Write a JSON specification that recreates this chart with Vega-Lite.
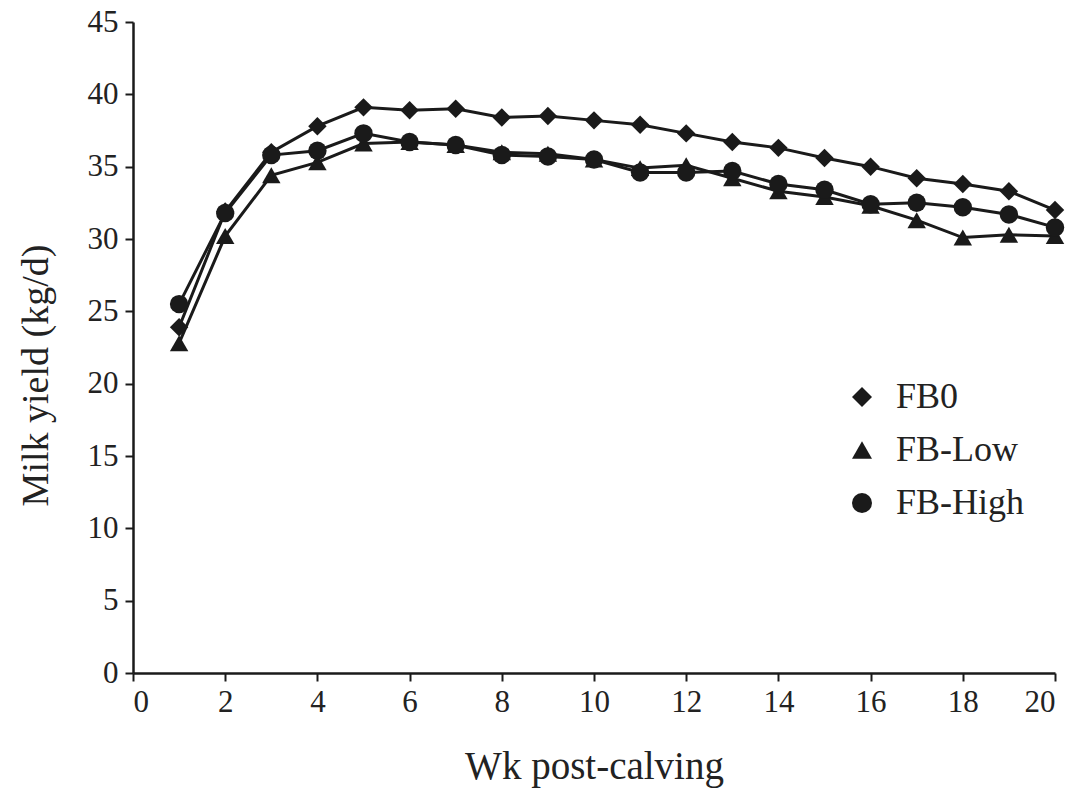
{
  "$schema": "https://vega.github.io/schema/vega-lite/v6.json",
  "width": 922,
  "height": 651,
  "autosize": {"type": "none"},
  "padding": {"left": 133, "top": 22, "right": 21, "bottom": 120},
  "background": "white",
  "config": {
    "view": {"stroke": null},
    "font": "Liberation Serif",
    "axis": {
      "grid": false,
      "domainColor": "#1a1a1a",
      "domainWidth": 2.5,
      "tickColor": "#1a1a1a",
      "tickWidth": 2,
      "tickSize": 8,
      "labelFont": "Liberation Serif",
      "labelFontSize": 31,
      "labelColor": "#222222",
      "titleFont": "Liberation Serif",
      "titleFontSize": 39,
      "titleFontWeight": "normal",
      "titleColor": "#222222"
    }
  },
  "data": {
    "values": [
      {"wk": 1, "series": "FB0", "y": 23.9},
      {"wk": 2, "series": "FB0", "y": 31.9},
      {"wk": 3, "series": "FB0", "y": 36.0},
      {"wk": 4, "series": "FB0", "y": 37.8},
      {"wk": 5, "series": "FB0", "y": 39.1},
      {"wk": 6, "series": "FB0", "y": 38.9},
      {"wk": 7, "series": "FB0", "y": 39.0},
      {"wk": 8, "series": "FB0", "y": 38.4},
      {"wk": 9, "series": "FB0", "y": 38.5},
      {"wk": 10, "series": "FB0", "y": 38.2},
      {"wk": 11, "series": "FB0", "y": 37.9},
      {"wk": 12, "series": "FB0", "y": 37.3},
      {"wk": 13, "series": "FB0", "y": 36.7},
      {"wk": 14, "series": "FB0", "y": 36.3},
      {"wk": 15, "series": "FB0", "y": 35.6},
      {"wk": 16, "series": "FB0", "y": 35.0},
      {"wk": 17, "series": "FB0", "y": 34.2},
      {"wk": 18, "series": "FB0", "y": 33.8},
      {"wk": 19, "series": "FB0", "y": 33.3},
      {"wk": 20, "series": "FB0", "y": 32.0},
      {"wk": 1, "series": "FB-Low", "y": 22.8},
      {"wk": 2, "series": "FB-Low", "y": 30.2},
      {"wk": 3, "series": "FB-Low", "y": 34.4},
      {"wk": 4, "series": "FB-Low", "y": 35.3},
      {"wk": 5, "series": "FB-Low", "y": 36.6},
      {"wk": 6, "series": "FB-Low", "y": 36.7},
      {"wk": 7, "series": "FB-Low", "y": 36.5},
      {"wk": 8, "series": "FB-Low", "y": 36.0},
      {"wk": 9, "series": "FB-Low", "y": 35.9},
      {"wk": 10, "series": "FB-Low", "y": 35.5},
      {"wk": 11, "series": "FB-Low", "y": 34.9},
      {"wk": 12, "series": "FB-Low", "y": 35.1},
      {"wk": 13, "series": "FB-Low", "y": 34.2},
      {"wk": 14, "series": "FB-Low", "y": 33.3},
      {"wk": 15, "series": "FB-Low", "y": 32.9},
      {"wk": 16, "series": "FB-Low", "y": 32.3},
      {"wk": 17, "series": "FB-Low", "y": 31.3},
      {"wk": 18, "series": "FB-Low", "y": 30.1},
      {"wk": 19, "series": "FB-Low", "y": 30.3},
      {"wk": 20, "series": "FB-Low", "y": 30.2},
      {"wk": 1, "series": "FB-High", "y": 25.5},
      {"wk": 2, "series": "FB-High", "y": 31.8},
      {"wk": 3, "series": "FB-High", "y": 35.8},
      {"wk": 4, "series": "FB-High", "y": 36.1},
      {"wk": 5, "series": "FB-High", "y": 37.3},
      {"wk": 6, "series": "FB-High", "y": 36.7},
      {"wk": 7, "series": "FB-High", "y": 36.5},
      {"wk": 8, "series": "FB-High", "y": 35.8},
      {"wk": 9, "series": "FB-High", "y": 35.7},
      {"wk": 10, "series": "FB-High", "y": 35.5},
      {"wk": 11, "series": "FB-High", "y": 34.6},
      {"wk": 12, "series": "FB-High", "y": 34.6},
      {"wk": 13, "series": "FB-High", "y": 34.7},
      {"wk": 14, "series": "FB-High", "y": 33.8},
      {"wk": 15, "series": "FB-High", "y": 33.4},
      {"wk": 16, "series": "FB-High", "y": 32.4},
      {"wk": 17, "series": "FB-High", "y": 32.5},
      {"wk": 18, "series": "FB-High", "y": 32.2},
      {"wk": 19, "series": "FB-High", "y": 31.7},
      {"wk": 20, "series": "FB-High", "y": 30.8}
    ]
  },
  "encoding": {
    "x": {
      "field": "wk", "type": "quantitative",
      "scale": {"domain": [0, 20], "nice": false, "zero": false},
      "axis": {"values": [0, 2, 4, 6, 8, 10, 12, 14, 16, 18, 20], "title": "Wk post-calving", "labelPadding": 6, "titlePadding": 30}
    },
    "y": {
      "field": "y", "type": "quantitative",
      "scale": {"domain": [0, 45], "nice": false},
      "axis": {"values": [0, 5, 10, 15, 20, 25, 30, 35, 40, 45], "title": "Milk yield (kg/d)", "titleFontSize": 38, "titleY": 353, "labelPadding": 7, "titlePadding": 32}
    }
  },
  "layer": [
    {
      "mark": {"type": "line", "color": "#1a1a1a", "strokeWidth": 3},
      "encoding": {"detail": {"field": "series"}}
    },
    {
      "mark": {"type": "point", "filled": true, "color": "#1a1a1a", "opacity": 1, "size": 340},
      "encoding": {
        "shape": {
          "field": "series", "type": "nominal",
          "scale": {"domain": ["FB0", "FB-Low", "FB-High"], "range": ["diamond", "triangle-up", "circle"]},
          "legend": {
            "title": null,
            "orient": "none",
            "legendX": 711,
            "legendY": 357,
            "padding": 0,
            "symbolSize": 400,
            "symbolFillColor": "#1a1a1a",
            "symbolStrokeColor": "#1a1a1a",
            "symbolStrokeWidth": 3,
            "symbolOpacity": 1,
            "labelFont": "Liberation Serif",
            "labelFontSize": 36,
            "labelColor": "#222222",
            "labelOffset": 16,
            "rowPadding": 17,
            "encode": {
              "symbols": {
                "fill": {"value": "#1a1a1a"},
                "stroke": {"value": "#1a1a1a"},
                "strokeWidth": {"value": 3},
                "opacity": {"value": 1}
              }
            }
          }
        }
      }
    }
  ]
}
